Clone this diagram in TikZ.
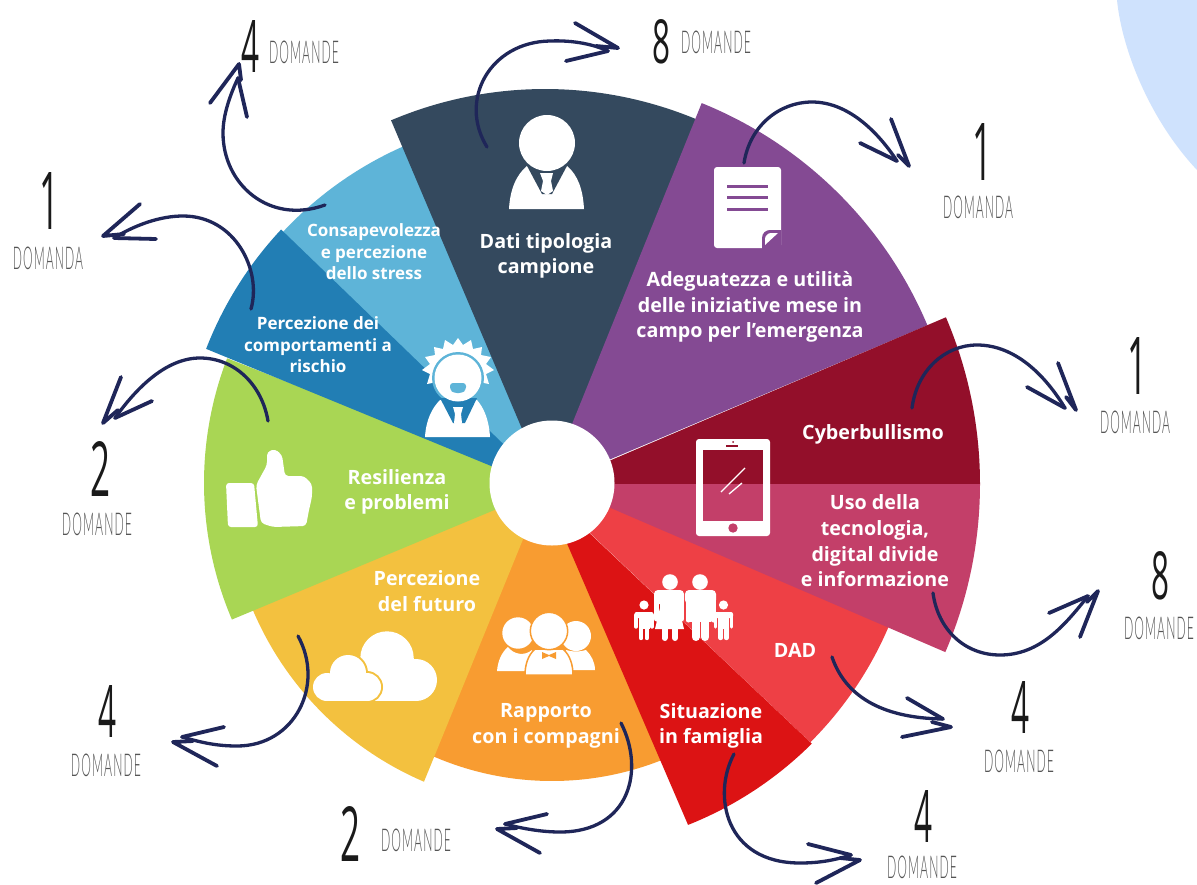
\documentclass[tikz,border=0pt]{standalone}
\usepackage{fontspec}
\usetikzlibrary{calc}
\setmainfont{Open Sans}
\newfontfamily\labelfont{Open Sans}
\newfontfamily\thinfont{Lato Light}[LetterSpace=9]
\newfontfamily\digitfont{Open Sans}
\definecolor{cslate}{HTML}{34495E}
\definecolor{cpurple}{HTML}{844A93}
\definecolor{ccrimson}{HTML}{930F2A}
\definecolor{crose}{HTML}{C33F69}
\definecolor{ccoral}{HTML}{EE4045}
\definecolor{cred}{HTML}{DC1314}
\definecolor{corange}{HTML}{F89C31}
\definecolor{cyellow}{HTML}{F3C13F}
\definecolor{cgreen}{HTML}{A9D654}
\definecolor{cblue}{HTML}{227EB4}
\definecolor{clight}{HTML}{5EB4D8}
\definecolor{cnavy}{HTML}{1F2659}
\definecolor{cblob}{HTML}{CFE2FD}
\definecolor{cink}{HTML}{1A1A1A}
\definecolor{cgrey}{HTML}{555555}
\tikzset{
  biglabel/.style={text=white,align=center,inner sep=0pt,font=\labelfont\bfseries\fontsize{19.7}{25.7}\selectfont},
  smalllabel/.style={text=white,align=center,inner sep=0pt,font=\labelfont\bfseries\fontsize{17}{21.5}\selectfont},
  digitlabel/.style={text=cink,inner sep=0pt},
  wordlabel/.style={text=cgrey,inner sep=0pt},
  shaft/.style={draw=cnavy,line width=3.3pt,line cap=round,line join=round},
  barb/.style={draw=cnavy,line width=3.8pt,line cap=round,line join=round},
}
\newcommand\sector[6]{\fill[#1] (#2) -- ($(#3)+(#4:#6)$) arc[start angle=#4,end angle=#5,radius=#6] -- cycle;}
\newcommand\headstrokes[5]{\draw[barb] (#1) -- (#2); \draw[barb] (#3) -- (#4) -- (#5);}
\newcommand\digitnode[5]{\node[digitlabel] (#1) at (#2) {\resizebox{#3pt}{#4pt}{\digitfont\fontsize{72}{72}\selectfont #5}};}
\newcommand\wordnode[3]{\node[wordlabel] (#1) at (#2) {\resizebox{70pt}{22.5pt}{\thinfont\fontsize{32}{32}\selectfont #3}};}
\begin{document}
\begin{tikzpicture}[x=1pt,y=-1pt]
\useasboundingbox (0,0) rectangle (1197,884);
\fill[white] (0,0) rectangle (1197,884);
% pale blob
\fill[cblob] (1117,0) .. controls (1122,50) and (1150,120) .. (1197,170) -- (1197,0) -- cycle;
% sectors
\coordinate (c) at (552,483);
\sector{corange}{552,483}{c}{63}{118}{298}
\sector{cyellow}{546,483}{c}{113.2}{157}{325}
\sector{cgreen}{552,486}{c}{156.9}{201}{348}
\sector{clight}{552,490}{c}{222}{249}{368}
\sector{cblue}{552,491}{c}{201.2}{223.1}{371}
\sector{cslate}{545,483}{545,483}{247}{292.5}{394}
\fill[cslate] (545,483) -- (575,483) -- (697,120) -- (690,121) -- cycle;
\sector{cpurple}{547,486}{547,486}{292}{337.1}{413}
\sector{ccrimson}{555,484}{555,484}{336.9}{360}{425}
\sector{ccoral}{552,497}{c}{10}{45.1}{366}
\sector{crose}{555,484}{555,484}{0}{23.3}{425}
\sector{cred}{544,490}{c}{45.1}{68.3}{368}
\fill[white] (c) circle[radius=62.5];
% person icon (slate)
\fill[white] (509,209) .. controls (510,190) and (516,175) .. (527,166) -- (567,166) .. controls (578,175) and (583,190) .. (584,209) -- cycle;
\fill[cslate] (526,164) -- (568,164) -- (552,194) -- (542,194) -- cycle;
\fill[white] (540,173) -- (553,173) -- (551,181) -- (553,191) -- (547,195) -- (541,191) -- (543,181) -- cycle;
\fill[white] (547,143) circle[radius=28];
% stressed person icon
\fill[white] (458,338) -- (463,345) -- (471,340) -- (473,349) -- (482,347) -- (481,355) -- (491,357) -- (486,364) -- (494,370) -- (486,374) -- (489,384) -- (458,378) -- (427,384) -- (430,374) -- (422,370) -- (430,364) -- (425,357) -- (435,355) -- (434,347) -- (443,349) -- (445,340) -- (453,345) -- cycle;
\fill[clight] (458,378) circle[radius=26];
\fill[white] (425,437) .. controls (426,420) and (432,408) .. (440,400) -- (477,400) .. controls (484,408) and (489,420) .. (490,437) -- cycle;
\fill[cblue] (440,398) -- (477,398) -- (465,423) -- (453,423) -- cycle;
\fill[white] (453,407) -- (463,407) -- (461,414) -- (462,423) -- (458,426) -- (454,423) -- (455,414) -- cycle;
\fill[white] (458,378) circle[radius=23.5];
\fill[clight,rounded corners=3pt] (450,383) -- (466,383) -- (466,390) -- (462,393) -- (454,393) -- (450,390) -- cycle;
% document icon
\fill[white,rounded corners=3pt] (714,167) rectangle (781,248);
\fill[cpurple] (781,249) -- (762,249) -- (762,238) .. controls (762,233) and (766,230) .. (770,230) -- (781,230) -- cycle;
\fill[white] (765,245) -- (765,239) .. controls (765,236) and (768,233) .. (771,233) -- (778,233) -- cycle;
\draw[cpurple,line width=3pt] (727,186) -- (768,186) (727,197) -- (768,197) (727,209) -- (768,209);
% tablet icon
\fill[white,rounded corners=3pt] (696,439) rectangle (770,536);
\fill[crose] (733,528) circle[radius=4.7];
\fill[ccrimson] (733,442) circle[radius=1];
\fill[ccrimson] (726,445) rectangle (738,447);
\fill[ccrimson] (703,450) rectangle (763,484);
\fill[crose] (703,484) rectangle (763,521);
\draw[white,line width=1.3pt] (721,492) -- (745,468) (729,494) -- (742,483);
% family icon
\foreach \fx in {0,30}{
  \fill[white] (670+\fx,582) circle[radius=7.8];
}
\fill[white,rounded corners=4pt] (654,590) rectangle (684,604);
\draw[white,line width=5pt,line cap=round] (656.5,595) -- (656.5,619) (681.5,595) -- (681.5,619);
\fill[white] (660,592) -- (679,592) -- (679,608) -- (684,629) -- (655,629) -- (660,608) -- cycle;
\draw[white,line width=6pt,line cap=round] (664.5,628) -- (664.5,638) (675,628) -- (675,638);
\fill[white,rounded corners=4pt] (685,590) rectangle (716,604);
\fill[white] (690,592) rectangle (711,622);
\draw[white,line width=5pt,line cap=round] (688,595) -- (688,620) (713,595) -- (713,620);
\draw[white,line width=8pt,line cap=round] (695.7,620) -- (695.7,637) (705.3,620) -- (705.3,637);
\foreach \cx in {644,723.5}{
  \fill[white] (\cx,605) circle[radius=4.6];
  \fill[white,rounded corners=2pt] (\cx-9.5,612) rectangle (\cx+9.5,618);
  \fill[white] (\cx-5.5,613) rectangle (\cx+5.5,629);
  \draw[white,line width=3.4pt,line cap=round] (\cx-8,615) -- (\cx-8,627) (\cx+8,615) -- (\cx+8,627);
  \draw[white,line width=4.4pt,line cap=round] (\cx-2.9,628) -- (\cx-2.9,638) (\cx+2.9,628) -- (\cx+2.9,638);
}
% classmates icon
\fill[white] (497,671) .. controls (498,660) and (502,652) .. (508,647) .. controls (514,655) and (525,656) .. (532,650) -- (532,671) -- cycle;
\fill[white] (560,670) -- (566,650) .. controls (572,652) and (580,652) .. (586,650) .. controls (591,655) and (595,662) .. (595,670) -- cycle;
\fill[white] (518,633) circle[radius=15.7];
\fill[white] (576,636) circle[radius=15];
\fill[white,draw=corange,line width=1.5pt] (525,675) .. controls (525,665) and (528,655) .. (535,649) -- (563,649) .. controls (570,655) and (573,665) .. (573,675) -- cycle;
\fill[white,draw=corange,line width=1.5pt] (549,631) circle[radius=18.7];
\fill[corange] (542,652) -- (549,655) -- (556,652) -- (556,659) -- (549,656) -- (542,659) -- cycle;
% clouds
\fill[white] (387,658) circle[radius=26.7];
\fill[white] (416,680) circle[radius=21];
\fill[white] (375,680) rectangle (416,701);
\fill[white] (361,658) rectangle (414,685);
\path[draw=cyellow,line width=4pt] (348,673) circle[radius=18] (327,687) circle[radius=14] (367,687) circle[radius=14];
\fill[white] (348,673) circle[radius=18];
\fill[white] (327,687) circle[radius=14];
\fill[white] (367,687) circle[radius=14];
\fill[white] (327,680) rectangle (367,701);
% thumb icon
\fill[white,rounded corners=3pt] (226,483) -- (254,483) -- (258,527) -- (228,527) -- cycle;
\fill[white,rounded corners=3.5pt] (256,485) -- (267,465) -- (267,452) -- (275,449) -- (282,455) -- (285,476) -- (304,476) -- (312,484) -- (312,497) -- (309,510) -- (306,526) -- (273,527) -- (261,523) -- cycle;
% labels
\node[biglabel] (ldati) at (546,256) {Dati tipologia\\campione};
\node[biglabel] (ladeg) at (750,307) {Adeguatezza e utilità\\delle iniziative mese in\\campo per l’emergenza};
\node[biglabel] (lcyber) at (873,434) {Cyberbullismo};
\node[biglabel] (luso) at (875,541) {Uso della\\tecnologia,\\digital divide\\e informazione};
\node[biglabel] (ldad) at (795,650) {DAD};
\node[biglabel] (lsit) at (711,726) {Situazione\\in famiglia};
\node[biglabel] (lrap) at (546,726) {Rapporto\\con i compagni};
\node[biglabel] (lfut) at (427,591) {Percezione\\del futuro};
\node[biglabel] (lres) at (397,492) {Resilienza\\e problemi};
\node[smalllabel] (lcomp) at (318,345) {Percezione dei\\comportamenti a\\rischio};
\node[smalllabel] (lcons) at (374,252) {Consapevolezza\\e percezione\\dello stress};
% counts
\digitnode{n1}{250,46}{18}{52}{4}\wordnode{w1}{304,52}{DOMANDE}
\digitnode{n2}{49,201}{20}{57}{1}\wordnode{w2}{48,258}{DOMANDA}
\digitnode{n3}{661,42}{18}{44}{8}\wordnode{w3}{716,42}{DOMANDE}
\digitnode{n4}{982,152}{20}{57}{1}\wordnode{w4}{978,207}{DOMANDA}
\digitnode{n5}{1137,366}{20}{57}{1}\wordnode{w5}{1135,422}{DOMANDA}
\digitnode{n6}{1160,576}{18}{48}{8}\wordnode{w6}{1159,628}{DOMANDE}
\digitnode{n7}{1020,707}{18}{52}{4}\wordnode{w7}{1019,761}{DOMANDE}
\digitnode{n8}{923,816}{18}{52}{4}\wordnode{w8}{922,867}{DOMANDE}
\digitnode{n9}{350,834}{20}{55}{2}\wordnode{w9}{416,840}{DOMANDE}
\digitnode{n10}{107,711}{18}{52}{4}\wordnode{w10}{106,765}{DOMANDE}
\digitnode{n11}{100,469}{20}{55}{2}\wordnode{w11}{97,524}{DOMANDE}
% connectors
\coordinate (s1) at (487,147); \coordinate (m1) at (550,41); \coordinate (e1) at (608,51);
\draw[shaft] (s1) .. controls (458,100) and (490,42) .. (m1) .. controls (575,40) and (595,45) .. (e1);
\headstrokes{566,61}{e1}{575,23}{618,48}{596,46}
\coordinate (s2) at (744,163); \coordinate (m2) at (812,102); \coordinate (e2) at (897,161);
\draw[shaft] (s2) .. controls (750,125) and (780,102) .. (m2) .. controls (850,102) and (880,135) .. (e2);
\headstrokes{860,143}{e2}{891,119}{909,166}{898,155}
\coordinate (s3) at (912,408); \coordinate (m3) at (977,345); \coordinate (e3) at (1065,408);
\draw[shaft] (s3) .. controls (917,370) and (945,345) .. (m3) .. controls (1015,345) and (1045,375) .. (e3);
\headstrokes{1027,387}{e3}{1058,363}{1076,410}{1066,397}
\coordinate (s4) at (933,593); \coordinate (m4) at (1000,655); \coordinate (e4) at (1088,596);
\draw[shaft] (s4) .. controls (938,630) and (965,655) .. (m4) .. controls (1040,655) and (1065,625) .. (e4);
\headstrokes{1049,613}{e4}{1080,637}{1098,591}{1087,602}
\coordinate (s5) at (832,657); \coordinate (e5) at (943,719);
\draw[shaft] (s5) .. controls (845,695) and (880,718) .. (e5);
\headstrokes{907,698}{e5}{902,737}{951,727}{932,722}
\coordinate (s6) at (734,754); \coordinate (m6) at (800,863); \coordinate (e6) at (851,855);
\draw[shaft] (s6) .. controls (712,795) and (725,863) .. (m6) .. controls (820,863) and (835,860) .. (e6);
\headstrokes{808,844}{e6}{816,883}{860,860}{840,858}
\coordinate (s7) at (621,723); \coordinate (m7) at (560,832); \coordinate (e7) at (505,824);
\draw[shaft] (s7) .. controls (645,770) and (630,832) .. (m7) .. controls (540,832) and (520,828) .. (e7);
\headstrokes{547,814}{e7}{540,853}{497,829}{517,828}
\coordinate (s8) at (298,636); \coordinate (m8) at (237,746); \coordinate (e8) at (182,737);
\draw[shaft] (s8) .. controls (325,685) and (295,746) .. (m8) .. controls (215,746) and (200,742) .. (e8);
\headstrokes{224,727}{e8}{217,766}{173,742}{193,741}
\coordinate (s9) at (268,421); \coordinate (m9) at (200,358); \coordinate (e9) at (115,418);
\draw[shaft] (s9) .. controls (262,385) and (235,358) .. (m9) .. controls (165,358) and (135,390) .. (e9);
\headstrokes{152,401}{e9}{121,377}{103,423}{118,410}
\coordinate (s10) at (251,309); \coordinate (m10) at (183,216); \coordinate (e10) at (114,238);
\draw[shaft] (s10) .. controls (262,270) and (235,216) .. (m10) .. controls (160,216) and (135,225) .. (e10);
\headstrokes{156,239}{e10}{140,204}{103,236}{124,234}
\coordinate (s11) at (325,205); \coordinate (m11) at (223,133); \coordinate (e11) at (238,78);
\draw[shaft] (s11) .. controls (270,225) and (223,185) .. (m11) .. controls (223,115) and (230,95) .. (e11);
\headstrokes{247,117}{e11}{210,103}{239,64}{241,80}
\end{tikzpicture}
\end{document}
